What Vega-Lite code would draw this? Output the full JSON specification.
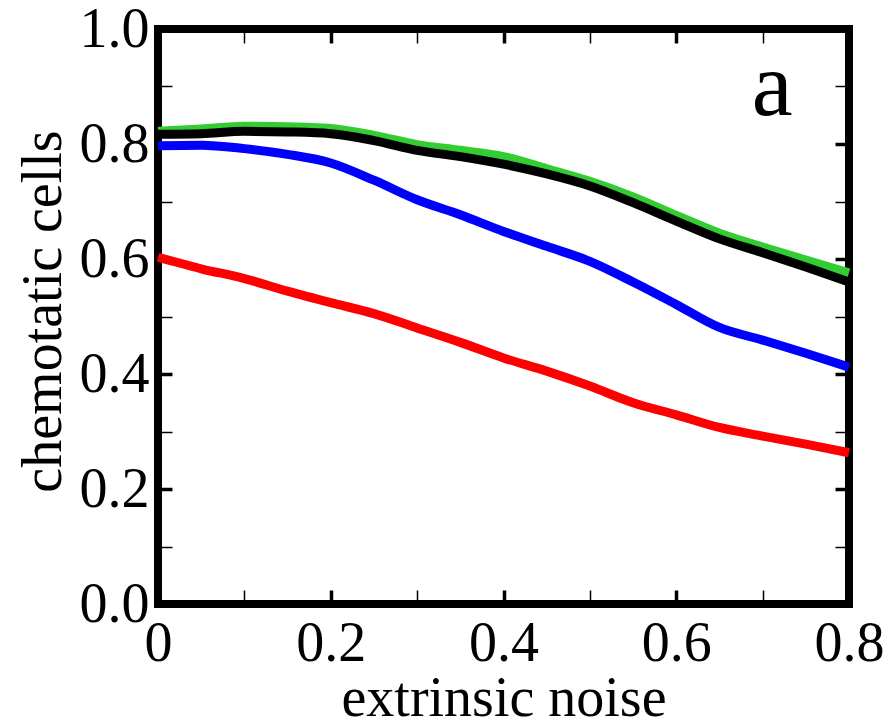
{
  "$schema": "https://vega.github.io/schema/vega-lite/v6.json",
  "width": 691,
  "height": 575,
  "autosize": "none",
  "padding": {"left": 158, "top": 29, "right": 43, "bottom": 118},
  "background": "white",
  "config": {"view": {"stroke": "black", "strokeWidth": 8}, "font": "Liberation Serif"},
  "layer": [
    {
      "data": {"values": [
        {"curve": "A", "noise": 0.0, "cells": 0.822},
        {"curve": "A", "noise": 0.05, "cells": 0.826},
        {"curve": "A", "noise": 0.1, "cells": 0.831},
        {"curve": "A", "noise": 0.15, "cells": 0.830},
        {"curve": "A", "noise": 0.2, "cells": 0.827},
        {"curve": "A", "noise": 0.25, "cells": 0.815},
        {"curve": "A", "noise": 0.3, "cells": 0.799},
        {"curve": "A", "noise": 0.35, "cells": 0.789},
        {"curve": "A", "noise": 0.4, "cells": 0.778},
        {"curve": "A", "noise": 0.45, "cells": 0.757},
        {"curve": "A", "noise": 0.5, "cells": 0.735},
        {"curve": "A", "noise": 0.55, "cells": 0.708},
        {"curve": "A", "noise": 0.6, "cells": 0.676},
        {"curve": "A", "noise": 0.65, "cells": 0.645},
        {"curve": "A", "noise": 0.7, "cells": 0.621},
        {"curve": "A", "noise": 0.75, "cells": 0.598},
        {"curve": "A", "noise": 0.8, "cells": 0.576},
        {"curve": "B", "noise": 0.0, "cells": 0.817},
        {"curve": "B", "noise": 0.05, "cells": 0.818},
        {"curve": "B", "noise": 0.1, "cells": 0.822},
        {"curve": "B", "noise": 0.15, "cells": 0.821},
        {"curve": "B", "noise": 0.2, "cells": 0.818},
        {"curve": "B", "noise": 0.25, "cells": 0.806},
        {"curve": "B", "noise": 0.3, "cells": 0.789},
        {"curve": "B", "noise": 0.35, "cells": 0.778},
        {"curve": "B", "noise": 0.4, "cells": 0.765},
        {"curve": "B", "noise": 0.45, "cells": 0.748},
        {"curve": "B", "noise": 0.5, "cells": 0.727},
        {"curve": "B", "noise": 0.55, "cells": 0.698},
        {"curve": "B", "noise": 0.6, "cells": 0.666},
        {"curve": "B", "noise": 0.65, "cells": 0.635},
        {"curve": "B", "noise": 0.7, "cells": 0.611},
        {"curve": "B", "noise": 0.75, "cells": 0.586},
        {"curve": "B", "noise": 0.8, "cells": 0.560},
        {"curve": "C", "noise": 0.0, "cells": 0.797},
        {"curve": "C", "noise": 0.05, "cells": 0.798},
        {"curve": "C", "noise": 0.1, "cells": 0.792},
        {"curve": "C", "noise": 0.15, "cells": 0.782},
        {"curve": "C", "noise": 0.2, "cells": 0.767},
        {"curve": "C", "noise": 0.25, "cells": 0.737},
        {"curve": "C", "noise": 0.3, "cells": 0.703},
        {"curve": "C", "noise": 0.35, "cells": 0.677},
        {"curve": "C", "noise": 0.4, "cells": 0.648},
        {"curve": "C", "noise": 0.45, "cells": 0.622},
        {"curve": "C", "noise": 0.5, "cells": 0.596},
        {"curve": "C", "noise": 0.55, "cells": 0.560},
        {"curve": "C", "noise": 0.6, "cells": 0.521},
        {"curve": "C", "noise": 0.65, "cells": 0.481},
        {"curve": "C", "noise": 0.7, "cells": 0.459},
        {"curve": "C", "noise": 0.75, "cells": 0.436},
        {"curve": "C", "noise": 0.8, "cells": 0.412},
        {"curve": "D", "noise": 0.0, "cells": 0.603},
        {"curve": "D", "noise": 0.05, "cells": 0.583},
        {"curve": "D", "noise": 0.1, "cells": 0.566},
        {"curve": "D", "noise": 0.15, "cells": 0.544},
        {"curve": "D", "noise": 0.2, "cells": 0.524},
        {"curve": "D", "noise": 0.25, "cells": 0.505},
        {"curve": "D", "noise": 0.3, "cells": 0.480},
        {"curve": "D", "noise": 0.35, "cells": 0.455},
        {"curve": "D", "noise": 0.4, "cells": 0.428},
        {"curve": "D", "noise": 0.45, "cells": 0.405},
        {"curve": "D", "noise": 0.5, "cells": 0.379},
        {"curve": "D", "noise": 0.55, "cells": 0.350},
        {"curve": "D", "noise": 0.6, "cells": 0.329},
        {"curve": "D", "noise": 0.65, "cells": 0.307},
        {"curve": "D", "noise": 0.7, "cells": 0.292},
        {"curve": "D", "noise": 0.75, "cells": 0.278},
        {"curve": "D", "noise": 0.8, "cells": 0.263}
      ]},
      "mark": {"type": "line", "strokeWidth": 9, "interpolate": "monotone", "strokeCap": "butt"},
      "encoding": {
        "x": {
          "field": "noise", "type": "quantitative",
          "scale": {"domain": [0, 0.8], "nice": false, "zero": false},
          "axis": {
            "orient": "bottom",
            "values": [0, 0.1, 0.2, 0.3, 0.4, 0.5, 0.6, 0.7, 0.8],
            "labelExpr": "round(datum.value*10)%2==0 ? (datum.value==0 ? '0' : format(datum.value,'.1f')) : ''",
            "domain": false, "grid": false,
            "tickSize": -14, "tickColor": "black",
            "tickWidth": {"condition": {"test": "round(datum.value*10)%2==0", "value": 3.5}, "value": 1.5},
            "labelFont": "Liberation Serif", "labelFontSize": 56, "labelColor": "black",
            "labelPadding": 26, "labelFlush": false, "labelOverlap": false,
            "title": "extrinsic noise", "titleFont": "Liberation Serif", "titleFontSize": 56,
            "titleFontWeight": "normal", "titleColor": "black",
            "titleBaseline": "alphabetic", "titleY": 111
          }
        },
        "y": {
          "field": "cells", "type": "quantitative",
          "scale": {"domain": [0, 1], "nice": false},
          "axis": {
            "orient": "left",
            "values": [0, 0.1, 0.2, 0.3, 0.4, 0.5, 0.6, 0.7, 0.8, 0.9, 1.0],
            "labelExpr": "round(datum.value*10)%2==0 ? format(datum.value,'.1f') : ''",
            "domain": false, "grid": false,
            "tickSize": -14, "tickColor": "black",
            "tickWidth": {"condition": {"test": "round(datum.value*10)%2==0", "value": 3.5}, "value": 1.5},
            "labelFont": "Liberation Serif", "labelFontSize": 56, "labelColor": "black",
            "labelPadding": 23, "labelFlush": false, "labelOverlap": false,
            "title": "chemotatic cells", "titleFont": "Liberation Serif", "titleFontSize": 56,
            "titleFontWeight": "normal", "titleColor": "black",
            "titleBaseline": "alphabetic", "titleX": -98, "titleY": 282
          }
        },
        "color": {
          "field": "curve", "type": "nominal",
          "scale": {"domain": ["A", "B", "C", "D"], "range": ["#33cc33", "#000000", "#0000ff", "#ff0000"]},
          "legend": null
        }
      }
    },
    {
      "data": {"values": [{"noise": 0.711, "cells": 0.85, "label": "a"}]},
      "mark": {"type": "text", "fontSize": 92, "align": "center", "baseline": "alphabetic", "font": "Liberation Serif", "color": "black"},
      "encoding": {
        "x": {
          "field": "noise", "type": "quantitative",
          "axis": {
            "orient": "top",
            "values": [0, 0.1, 0.2, 0.3, 0.4, 0.5, 0.6, 0.7, 0.8],
            "labels": false, "domain": false, "grid": false, "title": null,
            "tickSize": -14, "tickColor": "black",
            "tickWidth": {"condition": {"test": "round(datum.value*10)%2==0", "value": 3.5}, "value": 1.5}
          }
        },
        "y": {
          "field": "cells", "type": "quantitative",
          "axis": {
            "orient": "right",
            "values": [0, 0.1, 0.2, 0.3, 0.4, 0.5, 0.6, 0.7, 0.8, 0.9, 1.0],
            "labels": false, "domain": false, "grid": false, "title": null,
            "tickSize": -14, "tickColor": "black",
            "tickWidth": {"condition": {"test": "round(datum.value*10)%2==0", "value": 3.5}, "value": 1.5}
          }
        },
        "text": {"field": "label"}
      }
    }
  ],
  "resolve": {"axis": {"x": "independent", "y": "independent"}}
}
